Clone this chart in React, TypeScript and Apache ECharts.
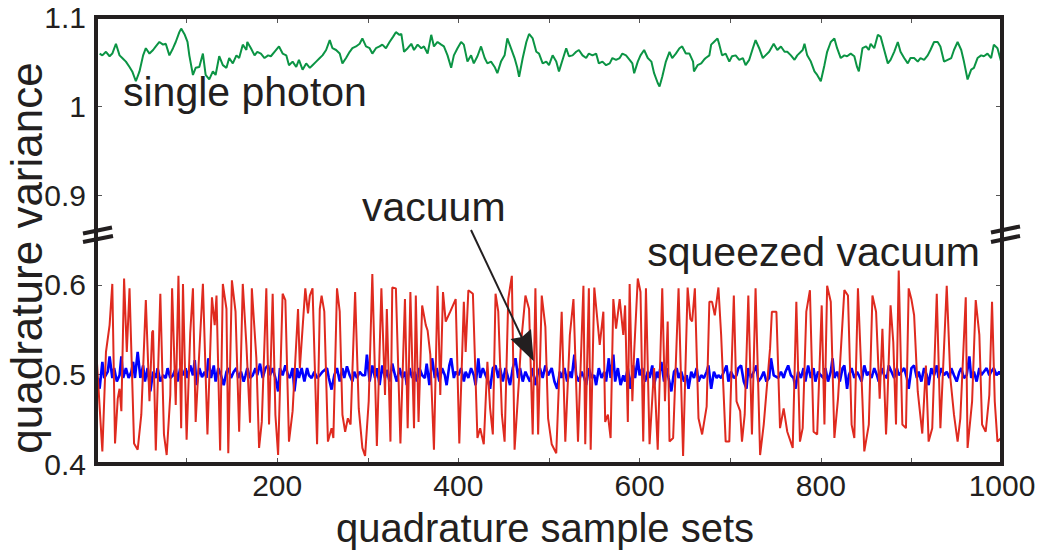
import React, { useEffect, useRef } from "react";
import * as echarts from "echarts";

// ---- data ----
const xTickLabels = [200, 400, 600, 800, 1000];
const upperTickLabels = [0.9, 1, 1.1];
const lowerTickLabels = [0.4, 0.5, 0.6];

const singlePhoton: [number, number][] = [
  [4,1.059],[7,1.057],[11,1.061],[15,1.056],[18,1.059],[22,1.070],[26,1.057],[29,1.054],[33,1.050],[37,1.044],[40,1.039],[44,1.028],[48,1.039],[52,1.057],[55,1.065],[59,1.059],[63,1.063],[66,1.067],[70,1.072],[74,1.069],[77,1.070],[81,1.057],[85,1.065],[88,1.072],[92,1.083],[94,1.087],[98,1.080],[101,1.072],[103,1.057],[107,1.035],[110,1.043],[114,1.044],[118,1.059],[121,1.035],[125,1.030],[129,1.039],[132,1.035],[136,1.056],[140,1.046],[144,1.043],[147,1.054],[151,1.048],[155,1.057],[158,1.054],[162,1.069],[166,1.063],[167,1.072],[171,1.065],[175,1.057],[178,1.061],[182,1.059],[186,1.054],[190,1.057],[193,1.056],[197,1.061],[202,1.067],[206,1.059],[210,1.057],[213,1.046],[217,1.050],[221,1.044],[224,1.052],[228,1.041],[232,1.048],[236,1.043],[239,1.046],[243,1.050],[247,1.054],[250,1.057],[254,1.063],[258,1.074],[261,1.065],[265,1.063],[269,1.059],[272,1.048],[276,1.054],[280,1.061],[283,1.065],[287,1.067],[291,1.070],[294,1.076],[298,1.067],[302,1.065],[305,1.059],[309,1.065],[313,1.067],[316,1.069],[320,1.065],[324,1.072],[328,1.078],[331,1.083],[335,1.080],[337,1.081],[340,1.061],
  [344,1.065],[348,1.070],[351,1.063],[355,1.069],[359,1.065],[362,1.067],[366,1.059],[370,1.080],[373,1.067],[377,1.072],[381,1.069],[384,1.067],[388,1.057],[392,1.043],[395,1.057],[399,1.065],[403,1.072],[406,1.069],[410,1.050],[414,1.057],[417,1.048],[421,1.056],[425,1.067],[429,1.054],[432,1.048],[436,1.050],[440,1.044],[443,1.037],[447,1.050],[451,1.057],[454,1.076],[458,1.065],[462,1.054],[465,1.043],[467,1.033],[471,1.054],[475,1.072],[478,1.081],[482,1.076],[486,1.061],[489,1.059],[493,1.048],[497,1.050],[500,1.046],[504,1.057],[508,1.050],[511,1.039],[515,1.052],[519,1.065],[522,1.056],[526,1.057],[530,1.061],[533,1.063],[537,1.057],[541,1.054],[544,1.059],[548,1.057],[552,1.059],[555,1.048],[559,1.050],[563,1.046],[567,1.048],[570,1.054],[574,1.052],[578,1.054],[581,1.059],[585,1.057],[589,1.052],[592,1.048],[594,1.037],[598,1.050],[601,1.057],[605,1.063],[609,1.054],[613,1.050],[616,1.037],[620,1.026],[622,1.022],[625,1.033],[629,1.050],[633,1.061],[636,1.054],[640,1.059],[644,1.065],[647,1.067],[651,1.059],[655,1.059],[659,1.050],[660,1.039],[664,1.046],[668,1.048],[671,1.052],
  [673,1.054],[677,1.057],[679,1.069],[682,1.072],[686,1.076],[688,1.069],[691,1.057],[695,1.059],[699,1.050],[702,1.056],[706,1.057],[710,1.052],[714,1.054],[717,1.046],[721,1.052],[725,1.065],[728,1.074],[732,1.065],[736,1.054],[739,1.057],[743,1.061],[748,1.070],[752,1.063],[756,1.067],[760,1.061],[763,1.061],[767,1.057],[771,1.052],[774,1.057],[780,1.063],[782,1.070],[785,1.057],[789,1.050],[793,1.039],[796,1.035],[800,1.028],[804,1.046],[807,1.061],[811,1.072],[815,1.076],[818,1.065],[822,1.054],[826,1.057],[829,1.056],[833,1.059],[837,1.056],[840,1.044],[842,1.039],[846,1.065],[850,1.067],[853,1.063],[855,1.070],[859,1.065],[863,1.080],[866,1.078],[870,1.063],[874,1.048],[877,1.052],[881,1.061],[885,1.072],[888,1.061],[892,1.054],[896,1.048],[899,1.054],[903,1.054],[907,1.050],[910,1.054],[914,1.052],[918,1.057],[921,1.063],[925,1.072],[929,1.072],[932,1.067],[936,1.050],[940,1.052],[944,1.054],[947,1.063],[951,1.072],[955,1.063],[958,1.050],[962,1.030],[966,1.041],[969,1.043],[973,1.054],[977,1.057],[980,1.056],[984,1.059],[988,1.054],[991,1.069],[995,1.065],[999,1.050],
];

const squeezedVacuum: [number, number][] = [
  [1,0.514],[7,0.414],[11,0.525],[15,0.555],[18,0.601],[21,0.423],[24,0.473],[26,0.484],[28,0.459],[31,0.607],[34,0.525],[37,0.596],[42,0.423],[46,0.416],[50,0.455],[55,0.583],[59,0.470],[62,0.547],[63,0.549],[66,0.415],[71,0.590],[75,0.433],[78,0.410],[82,0.477],[84,0.596],[88,0.466],[91,0.610],[94,0.440],[96,0.601],[100,0.427],[104,0.546],[107,0.596],[110,0.447],[115,0.544],[118,0.601],[123,0.433],[128,0.586],[131,0.555],[133,0.588],[137,0.415],[140,0.601],[144,0.573],[146,0.412],[150,0.605],[154,0.570],[158,0.436],[162,0.601],[166,0.533],[170,0.446],[172,0.596],[177,0.518],[180,0.418],[183,0.447],[188,0.596],[191,0.444],[195,0.590],[198,0.455],[201,0.410],[206,0.590],[209,0.583],[213,0.425],[217,0.459],[223,0.573],[225,0.507],[231,0.596],[234,0.568],[236,0.588],[239,0.596],[244,0.422],[247,0.573],
  [249,0.588],[252,0.570],[256,0.425],[260,0.440],[262,0.429],[266,0.596],[269,0.570],[272,0.455],[275,0.436],[278,0.451],[281,0.444],[286,0.592],[290,0.462],[294,0.418],[297,0.409],[301,0.470],[305,0.612],[310,0.420],[315,0.596],[319,0.477],[321,0.573],[325,0.425],[327,0.597],[331,0.596],[336,0.423],[341,0.584],[344,0.440],[347,0.592],[351,0.440],[353,0.588],[356,0.447],[360,0.577],[364,0.555],[366,0.549],[369,0.522],[373,0.416],[377,0.599],[380,0.477],[383,0.592],[386,0.559],[391,0.570],[394,0.577],[397,0.584],[401,0.423],[406,0.581],[408,0.525],[411,0.594],[416,0.590],[421,0.429],[424,0.440],[428,0.422],[432,0.514],[435,0.462],[438,0.433],[441,0.590],[444,0.570],[448,0.455],[451,0.425],[455,0.584],[459,0.610],[462,0.416],[467,0.496],[469,0.533],[474,0.588],[478,0.573],[482,0.433],[485,0.596],[488,0.433],[492,0.588],[496,0.553],[499,0.451],[503,0.422],
  [508,0.412],[514,0.570],[518,0.425],[523,0.544],[527,0.584],[532,0.425],[538,0.599],[540,0.422],[544,0.596],[546,0.416],[550,0.597],[556,0.533],[560,0.570],[562,0.447],[565,0.455],[568,0.429],[571,0.584],[574,0.551],[578,0.584],[582,0.544],[584,0.577],[587,0.447],[589,0.601],[592,0.470],[594,0.525],[598,0.607],[601,0.592],[604,0.425],[607,0.596],[611,0.422],[616,0.507],[620,0.416],[625,0.596],[628,0.470],[631,0.559],[633,0.425],[637,0.429],[643,0.596],[648,0.409],[653,0.597],[656,0.562],[658,0.559],[661,0.596],[665,0.451],[669,0.433],[674,0.464],[677,0.581],[680,0.581],[683,0.566],[687,0.597],[690,0.544],[695,0.425],[699,0.425],[704,0.588],[707,0.470],[711,0.459],[713,0.425],[716,0.455],[720,0.588],[724,0.433],[728,0.596],[733,0.410],[737,0.444],[744,0.529],[746,0.570],
  [751,0.570],[755,0.440],[759,0.462],[763,0.436],[769,0.418],[773,0.581],[777,0.425],[780,0.440],[784,0.570],[788,0.594],[792,0.436],[796,0.433],[801,0.577],[804,0.444],[807,0.599],[811,0.581],[815,0.429],[819,0.473],[826,0.594],[830,0.588],[834,0.444],[837,0.429],[841,0.596],[846,0.470],[848,0.414],[853,0.444],[857,0.588],[861,0.570],[865,0.473],[868,0.551],[872,0.433],[873,0.455],[877,0.577],[880,0.536],[883,0.444],[886,0.616],[890,0.444],[894,0.440],[897,0.596],[900,0.584],[903,0.566],[907,0.481],[912,0.434],[916,0.510],[919,0.425],[923,0.440],[928,0.590],[932,0.440],[935,0.507],[939,0.599],[943,0.496],[947,0.455],[951,0.425],[954,0.451],[960,0.586],[962,0.418],[967,0.470],[971,0.583],[975,0.544],[978,0.444],[982,0.436],[986,0.477],[989,0.581],[992,0.470],[995,0.425],[999,0.429],
];

const vacuum: [number, number][] = [
  [2,0.496],[4,0.484],[7,0.514],[9,0.496],[13,0.503],[15,0.520],[18,0.496],[20,0.507],[23,0.492],[26,0.499],[28,0.520],[30,0.496],[33,0.507],[36,0.496],[39,0.503],[41,0.514],[43,0.496],[46,0.525],[49,0.496],[52,0.510],[54,0.492],[57,0.507],[60,0.481],[63,0.503],[66,0.496],[68,0.507],[71,0.492],[74,0.499],[77,0.496],[79,0.507],[82,0.496],[85,0.499],[88,0.507],[90,0.492],[93,0.507],[96,0.499],[99,0.507],[101,0.496],[104,0.510],[107,0.499],[109,0.516],[111,0.488],[114,0.507],[117,0.497],[120,0.503],[122,0.496],[124,0.518],[127,0.496],[130,0.510],[132,0.492],[135,0.507],[138,0.499],[141,0.488],[144,0.503],[146,0.507],[149,0.496],[152,0.503],[155,0.507],[157,0.496],[160,0.503],[163,0.492],[165,0.499],[167,0.507],[170,0.496],[173,0.499],[176,0.507],[178,0.499],[181,0.512],[184,0.496],[187,0.507],[190,0.510],[192,0.499],[195,0.507],[198,0.496],[201,0.481],[203,0.507],[206,0.499],[209,0.510],[212,0.499],[214,0.496],[217,0.507],[219,0.481],[222,0.507],[224,0.496],[227,0.507],[230,0.492],[233,0.507],[235,0.499],[238,0.496],[241,0.503],[244,0.496],[247,0.499],[250,0.503],
  [255,0.507],[257,0.496],[260,0.483],[263,0.499],[266,0.507],[269,0.492],[272,0.507],[274,0.496],[277,0.509],[280,0.499],[283,0.492],[285,0.503],[288,0.496],[291,0.503],[294,0.499],[297,0.499],[299,0.522],[302,0.492],[305,0.510],[308,0.496],[310,0.507],[313,0.488],[316,0.510],[319,0.496],[321,0.505],[324,0.492],[327,0.512],[330,0.499],[332,0.492],[335,0.507],[338,0.496],[341,0.503],[343,0.488],[346,0.507],[349,0.496],[352,0.503],[354,0.492],[357,0.507],[360,0.499],[363,0.496],[365,0.512],[368,0.488],[371,0.518],[374,0.496],[376,0.507],[379,0.492],[382,0.507],[385,0.499],[387,0.488],[390,0.510],[392,0.518],[395,0.496],[397,0.503],[400,0.499],[403,0.507],[406,0.492],[408,0.503],[411,0.496],[414,0.507],[417,0.499],[419,0.488],[422,0.518],[424,0.496],[427,0.507],[430,0.499],[433,0.492],[435,0.484],[438,0.507],[441,0.510],[444,0.496],[446,0.507],[449,0.492],[452,0.507],[455,0.496],[457,0.488],[460,0.507],[463,0.518],[466,0.496],[468,0.507],[471,0.492],[474,0.503],[477,0.496],[479,0.492],[482,0.507],[485,0.488],[488,0.503],[490,0.507],[493,0.496],[496,0.510],[499,0.499],
  [503,0.507],[506,0.492],[509,0.484],[512,0.503],[514,0.496],[517,0.507],[520,0.492],[523,0.503],[525,0.496],[528,0.522],[530,0.499],[533,0.492],[536,0.503],[539,0.496],[541,0.488],[544,0.507],[547,0.496],[550,0.499],[552,0.488],[555,0.507],[558,0.496],[561,0.503],[563,0.492],[566,0.518],[568,0.496],[571,0.522],[573,0.492],[576,0.507],[579,0.488],[582,0.499],[584,0.492],[587,0.507],[590,0.484],[593,0.510],[595,0.496],[598,0.518],[600,0.499],[603,0.507],[606,0.492],[609,0.503],[611,0.496],[614,0.510],[616,0.488],[619,0.503],[621,0.496],[624,0.514],[627,0.492],[630,0.507],[632,0.496],[635,0.481],[638,0.503],[641,0.507],[643,0.496],[646,0.503],[649,0.492],[652,0.499],[654,0.484],[657,0.503],[660,0.496],[663,0.507],[665,0.492],[668,0.499],[671,0.496],[674,0.503],[676,0.510],[679,0.484],[682,0.503],[685,0.496],[687,0.499],[690,0.496],[693,0.503],[696,0.510],[698,0.492],[701,0.503],[704,0.496],[707,0.499],[709,0.507],[712,0.510],[715,0.492],[718,0.484],[720,0.507],[723,0.496],[726,0.503],[729,0.510],[731,0.492],[734,0.496],[737,0.503],[740,0.492],[743,0.496],[745,0.518],[748,0.499],
  [753,0.496],[756,0.503],[759,0.496],[761,0.503],[764,0.510],[767,0.499],[770,0.496],[772,0.484],[775,0.503],[778,0.496],[781,0.507],[783,0.492],[786,0.510],[789,0.496],[792,0.507],[794,0.492],[797,0.503],[800,0.499],[803,0.496],[805,0.507],[808,0.492],[811,0.503],[813,0.518],[815,0.496],[818,0.503],[821,0.492],[824,0.507],[826,0.510],[829,0.484],[831,0.499],[834,0.507],[837,0.496],[840,0.503],[842,0.499],[845,0.492],[848,0.510],[851,0.499],[853,0.503],[856,0.496],[859,0.507],[862,0.499],[864,0.492],[867,0.507],[870,0.499],[873,0.496],[875,0.510],[878,0.503],[881,0.496],[884,0.507],[886,0.499],[889,0.503],[892,0.507],[895,0.496],[897,0.484],[900,0.507],[903,0.510],[906,0.496],[908,0.503],[911,0.492],[914,0.507],[917,0.499],[919,0.488],[922,0.507],[925,0.499],[928,0.510],[930,0.496],[933,0.507],[936,0.499],[939,0.503],[942,0.496],[944,0.507],[947,0.499],[950,0.492],[953,0.503],[955,0.507],[958,0.496],[961,0.499],[964,0.520],[966,0.496],[969,0.503],[972,0.492],[975,0.507],[977,0.499],[980,0.503],[983,0.507],[986,0.499],[988,0.503],[991,0.507],[994,0.499],[997,0.503],[1000,0.499],
];

const INK = "#231f20";
const FONT = "'Liberation Sans', Arial, Helvetica, sans-serif";
const GREEN = "#0b9444";
const RED = "#df2a1f";
const BLUE = "#0000ff";

function isTenth(v: number) {
  return Math.abs(Math.round(v * 10) - v * 10) < 1e-6;
}

export default function App() {
  const ref = useRef<HTMLDivElement>(null);

  useEffect(() => {
    if (!ref.current) return;
    const chart = echarts.init(ref.current, undefined, { renderer: "svg" });

    const tickStyle = { show: true, inside: true, length: 6, lineStyle: { color: "#555", width: 1 } };
    const xLabelBase = { color: INK, fontSize: 30, fontFamily: FONT };
    const yLabelBase = { color: INK, fontSize: 30, fontFamily: FONT };

    const gridLeft = 96;
    const gridWidth = 906;
    const upperTop = 17;
    const frameBottom = 464;

    const option: any = {
      animation: false,
      backgroundColor: "#ffffff",
      grid: [
        { left: gridLeft, width: gridWidth, top: upperTop, height: 223 },
        { left: gridLeft, width: gridWidth, top: 240, height: 224 },
      ],
      xAxis: [
        {
          gridIndex: 0, type: "value", position: "top", min: 0, max: 1000, interval: 100,
          axisLine: { show: false }, axisTick: tickStyle, axisLabel: { show: false }, splitLine: { show: false },
        },
        {
          gridIndex: 1, type: "value", position: "bottom", min: 0, max: 1000, interval: 100,
          axisLine: { show: false }, axisTick: tickStyle, splitLine: { show: false },
          axisLabel: {
            ...xLabelBase, margin: 6,
            formatter: (v: number) => (xTickLabels.indexOf(Math.round(v)) >= 0 ? String(Math.round(v)) : ""),
          },
        },
      ],
      yAxis: [
        {
          gridIndex: 0, type: "value", position: "left", min: 0.85, max: 1.1, interval: 0.05,
          axisLine: { show: false }, splitLine: { show: false },
          axisTick: { ...tickStyle, customValues: upperTickLabels },
          axisLabel: {
            ...yLabelBase, margin: 10, customValues: upperTickLabels,
            formatter: (v: number) => (isTenth(v) && v > 0.86 ? String(Math.round(v * 10) / 10) : ""),
          },
        },
        {
          gridIndex: 0, type: "value", position: "right", min: 0.85, max: 1.1, interval: 0.05,
          axisLine: { show: false }, splitLine: { show: false },
          axisTick: { ...tickStyle, customValues: upperTickLabels }, axisLabel: { show: false },
        },
        {
          gridIndex: 1, type: "value", position: "left", min: 0.4, max: 0.65, interval: 0.1,
          axisLine: { show: false }, splitLine: { show: false },
          axisTick: { ...tickStyle, customValues: lowerTickLabels },
          axisLabel: {
            ...yLabelBase, margin: 10, customValues: lowerTickLabels,
            formatter: (v: number) => String(Math.round(v * 10) / 10),
          },
        },
        {
          gridIndex: 1, type: "value", position: "right", min: 0.4, max: 0.65, interval: 0.1,
          axisLine: { show: false }, splitLine: { show: false },
          axisTick: { ...tickStyle, customValues: lowerTickLabels }, axisLabel: { show: false },
        },
      ],
      series: [
        {
          name: "single photon", type: "line", xAxisIndex: 0, yAxisIndex: 0,
          data: singlePhoton, showSymbol: false, symbol: "none",
          lineStyle: { color: GREEN, width: 2 },
        },
        {
          name: "vacuum", type: "line", xAxisIndex: 1, yAxisIndex: 2,
          data: vacuum, showSymbol: false, symbol: "none",
          lineStyle: { color: BLUE, width: 2.6 },
        },
        {
          name: "squeezed vacuum", type: "line", xAxisIndex: 1, yAxisIndex: 2,
          data: squeezedVacuum, showSymbol: false, symbol: "none",
          lineStyle: { color: RED, width: 2 },
        },
      ],
      graphic: [
        {
          type: "rect", z: 100,
          shape: { x: gridLeft, y: upperTop, width: gridWidth, height: frameBottom - upperTop },
          style: { fill: "none", stroke: INK, lineWidth: 4 },
        },
        { type: "line", z: 101, shape: { x1: 83, y1: 233.5, x2: 112, y2: 227.5 }, style: { stroke: INK, lineWidth: 4 } },
        { type: "line", z: 101, shape: { x1: 83, y1: 242, x2: 113, y2: 236 }, style: { stroke: INK, lineWidth: 4 } },
        { type: "line", z: 101, shape: { x1: 991, y1: 232.5, x2: 1020, y2: 226.5 }, style: { stroke: INK, lineWidth: 4 } },
        { type: "line", z: 101, shape: { x1: 991, y1: 242, x2: 1020, y2: 236 }, style: { stroke: INK, lineWidth: 4 } },
        {
          type: "text", z: 102, x: 123, y: 92,
          style: { text: "single photon", fill: INK, fontSize: 41, fontFamily: FONT, textAlign: "left", textVerticalAlign: "middle" },
        },
        {
          type: "text", z: 102, x: 362, y: 207,
          style: { text: "vacuum", fill: INK, fontSize: 41, fontFamily: FONT, textAlign: "left", textVerticalAlign: "middle" },
        },
        {
          type: "text", z: 102, x: 980, y: 252,
          style: { text: "squeezed vacuum", fill: INK, fontSize: 41, fontFamily: FONT, textAlign: "right", textVerticalAlign: "middle" },
        },
        {
          type: "text", z: 102, x: 545, y: 528,
          style: { text: "quadrature sample sets", fill: INK, fontSize: 40, fontFamily: FONT, textAlign: "center", textVerticalAlign: "middle" },
        },
        {
          type: "text", z: 102, x: 26, y: 258, rotation: Math.PI / 2,
          style: { text: "quadrature variance", fill: INK, fontSize: 44, fontFamily: FONT, textAlign: "center", textVerticalAlign: "middle" },
        },
        { type: "line", z: 102, shape: { x1: 471, y1: 230, x2: 523, y2: 340 }, style: { stroke: INK, lineWidth: 2 } },
        {
          type: "polygon", z: 102,
          shape: { points: [[533.7, 361.3], [531, 329], [522, 337], [510.5, 339]] },
          style: { fill: INK },
        },
      ],
    };

    chart.setOption(option);
    return () => chart.dispose();
  }, []);

  return (
    <div
      ref={ref}
      style={{ position: "fixed", left: 0, top: 0, width: "1047px", height: "551px", background: "#fff" }}
    />
  );
}
